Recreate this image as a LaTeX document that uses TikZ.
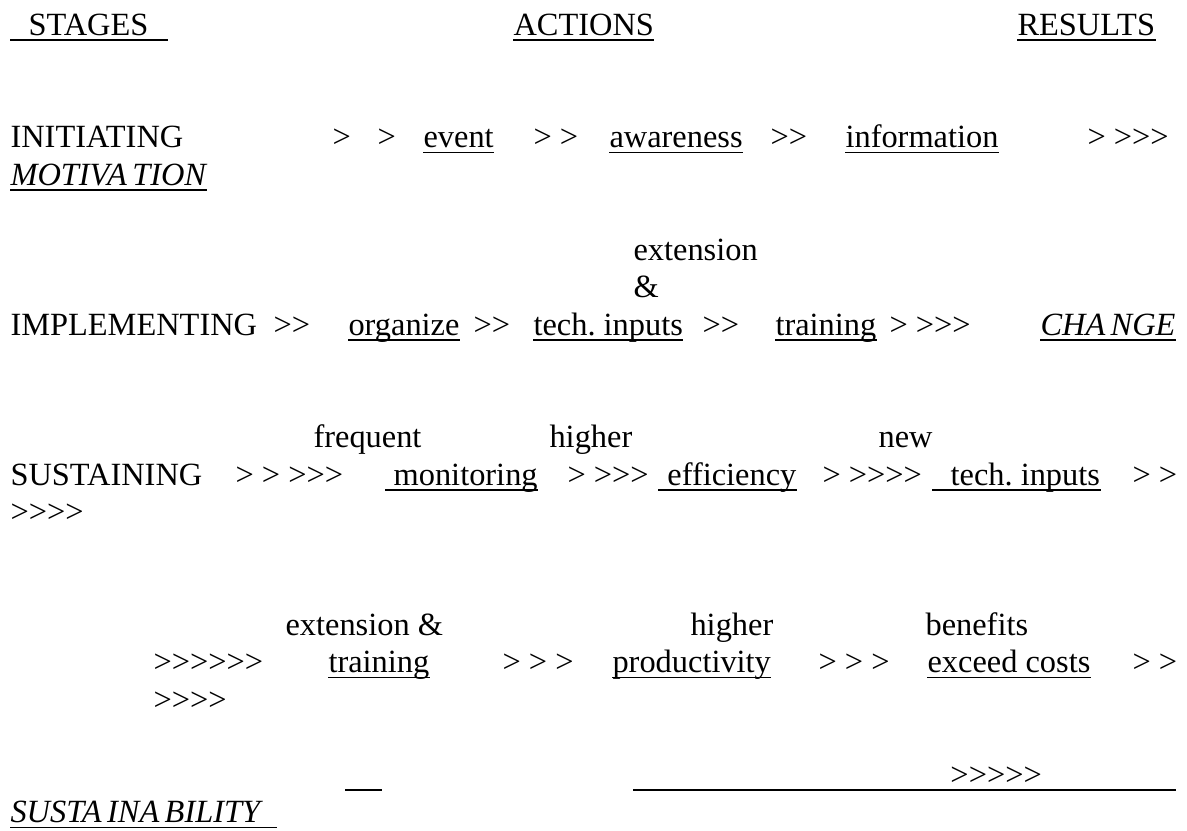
\documentclass[tikz,border=0pt]{standalone}
\usepackage{fontspec}
\setmainfont{Liberation Serif}[Ligatures=TeXOff]
\frenchspacing

\begin{document}
\begin{tikzpicture}[x=0.3704pt, y=-0.3704pt,
  lbl/.style={anchor=base west, inner sep=0pt, font=\fontsize{12}{14}\selectfont},
  ul/.style={lbl, append after command={\pgfextra{\draw[line width=0.55pt]
      ([yshift=-1.85pt]\tikzlastnode.base west) -- ([yshift=-1.85pt]\tikzlastnode.base east);}}},
  res/.style={ul, font=\fontsize{12}{14}\selectfont\itshape}]
  \useasboundingbox (0,0) rectangle (1187,830);

  % Column heads
  \node[ul] (stages) at (10, 35) {\kern6.7pt STAGES\kern7pt};
  \node[ul] (actions) at (513, 35) {ACTIONS};
  \node[ul] (results) at (1017, 35) {RESULTS};

  % Initiating
  \node[lbl] (ini) at (10, 147.5) {INITIATING};
  \node[lbl] (ini-a) at (332, 147.5) {>};
  \node[lbl] (ini-b) at (377, 147.5) {>};
  \node[ul] (event) at (423, 147.5) {event};
  \node[lbl] (ini-c) at (533, 147.5) {> >};
  \node[ul] (aware) at (609, 147.5) {awareness};
  \node[lbl] (ini-d) at (770, 147.5) {>>};
  \node[ul] (info) at (845, 147.5) {information};
  \node[lbl] (ini-e) at (1087, 147.5) {> >>>};
  \node[res] (motiv) at (10, 185) {MOTIVA\,TION};

  % Implementing
  \node[lbl] (ext1) at (633, 260) {extension};
  \node[lbl] (amp1) at (633, 297.5) {\&};
  \node[lbl] (impl) at (10, 335) {IMPLEMENTING};
  \node[lbl] (impl-a) at (273, 335) {>>};
  \node[ul] (organize) at (348, 335) {organize};
  \node[lbl] (impl-b) at (473, 335) {>>};
  \node[ul] (tech1) at (533, 335) {tech. inputs};
  \node[lbl] (impl-c) at (702, 335) {>>};
  \node[ul] (train1) at (775, 335) {training};
  \node[lbl] (impl-d) at (889, 335) {> >>>};
  \node[res] (change) at (1040, 335) {CHA\,NGE};

  % Sustaining
  \node[lbl] (freq) at (313, 447.5) {frequent};
  \node[lbl] (high1) at (549, 447.5) {higher};
  \node[lbl] (new) at (878, 447.5) {new};
  \node[lbl] (sust) at (10, 485) {SUSTAINING};
  \node[lbl] (sust-a) at (235, 485) {> > >>>};
  \node[ul] (monit) at (385, 485) {\kern3pt monitoring};
  \node[lbl] (sust-b) at (567, 485) {> >>>};
  \node[ul] (effic) at (658, 485) {\kern3.3pt efficiency};
  \node[lbl] (sust-c) at (822, 485) {> >>>>};
  \node[ul] (tech2) at (932, 485) {\kern6.7pt tech. inputs};
  \node[lbl] (sust-d) at (1132, 485) {> >};
  \node[lbl] (sust-e) at (10, 522.5) {>>>>};

  \node[lbl] (ext2) at (285, 635) {extension \&};
  \node[lbl] (high2) at (690, 635) {higher};
  \node[lbl] (benef) at (925, 635) {benefits};
  \node[lbl] (sust-f) at (153, 672.5) {>>>>>>};
  \node[ul] (train2) at (328, 672.5) {training};
  \node[lbl] (sust-g) at (502, 672.5) {> > >};
  \node[ul] (prod) at (612, 672.5) {productivity};
  \node[lbl] (sust-h) at (818, 672.5) {> > >};
  \node[ul] (costs) at (927, 672.5) {exceed costs};
  \node[lbl] (sust-i) at (1132, 672.5) {> >};
  \node[lbl] (sust-j) at (153, 710) {>>>>};

  % Result line
  \node[ul] (blank) at (345, 785) {\kern13.3pt};
  \node[ul] (tail) at (633, 785) {\kern117.4pt >>>>>\kern49.6pt};
  \node[res] (sustain) at (10, 822.5) {SUSTA\,INA\,BILITY\kern6pt};
\end{tikzpicture}
\end{document}
